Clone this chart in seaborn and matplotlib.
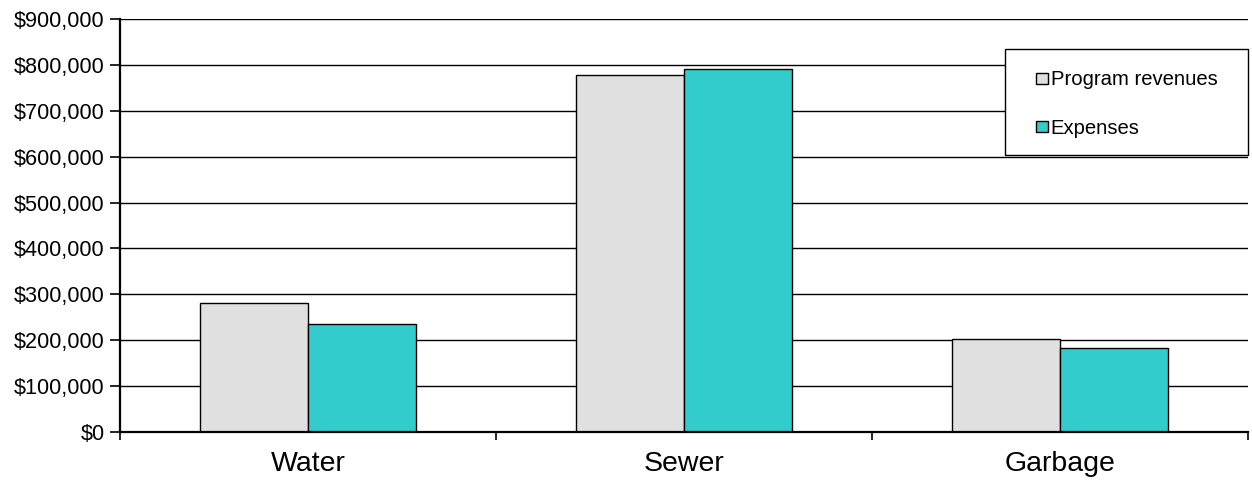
import pandas as pd
import matplotlib
matplotlib.use("Agg")
import matplotlib.pyplot as plt
import matplotlib.ticker as mticker
from matplotlib.patches import Rectangle
import seaborn as sns

# data
categories = ["Water", "Sewer", "Garbage"]
revenues = [282000, 777000, 202000]
expenses = [235000, 791000, 182000]
series_names = ["Program revenues", "Expenses"]
colors = ["#E0E0E0", "#33CCCC"]

df = pd.DataFrame({
    "category": categories * 2,
    "amount": revenues + expenses,
    "series": [series_names[0]] * 3 + [series_names[1]] * 3,
})

sns.set_style("white")
plt.rcParams["font.family"] = ["Liberation Sans", "DejaVu Sans"]
plt.rcParams["text.color"] = "black"
plt.rcParams["xtick.color"] = "black"
plt.rcParams["ytick.color"] = "black"

fig = plt.figure(figsize=(12.52, 4.8), dpi=100)
ax = fig.add_axes([0.0958, 0.1, 0.901, 0.8604])

sns.barplot(data=df, x="category", y="amount", hue="series", palette=colors,
            width=0.575, edgecolor="black", linewidth=1, saturation=1, ax=ax)

ax.set_ylim(0, 900000)
ax.set_xlim(-0.5, 2.5)
ax.yaxis.set_major_locator(mticker.MultipleLocator(100000))
ax.yaxis.set_major_formatter(mticker.FuncFormatter(lambda v, p: "${:,.0f}".format(v)))
ax.set_axisbelow(True)
ax.yaxis.grid(True, color="black", linewidth=1)
ax.xaxis.grid(False)

ax.set_xlabel("")
ax.set_ylabel("")
for s in ["top", "right"]:
    ax.spines[s].set_visible(False)
for s in ["left", "bottom"]:
    ax.spines[s].set_color("black")
    ax.spines[s].set_linewidth(1.6)

ax.tick_params(axis="y", which="major", direction="out", length=7, width=1.2,
               color="black", labelcolor="black", labelsize=15.6, pad=4, left=True)
ax.tick_params(axis="x", which="major", length=0, labelsize=20.5, pad=14,
               labelcolor="black")
ax.xaxis.set_minor_locator(mticker.FixedLocator([-0.5, 0.5, 1.5, 2.5]))
ax.tick_params(axis="x", which="minor", direction="out", length=6, width=1.2,
               color="black", bottom=True)

# legend box drawn by hand, legend entries centred in it
box_x0, box_y0, box_x1, box_y1 = 0.785, 0.671, 1.0, 0.927
ax.add_patch(Rectangle((box_x0, box_y0), box_x1 - box_x0, box_y1 - box_y0,
                       transform=ax.transAxes, facecolor="white",
                       edgecolor="black", linewidth=1, zorder=5, clip_on=False))
leg = ax.legend(loc="center", bbox_to_anchor=((box_x0 + box_x1) / 2, (box_y0 + box_y1) / 2 - 0.005),
                frameon=False, fontsize=14.6, borderpad=0,
                handlelength=0.6, handleheight=0.45, handletextpad=0.12,
                labelspacing=1.45)
leg.set_zorder(6)

fig.savefig("out.png", dpi=100)
